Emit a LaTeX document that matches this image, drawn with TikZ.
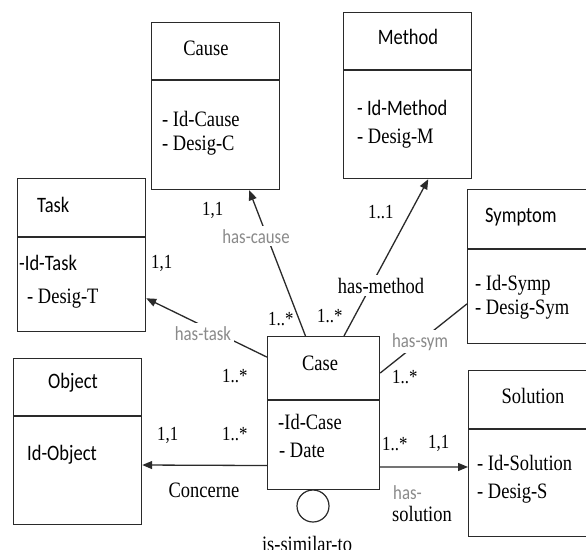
\documentclass[tikz,border=0pt]{standalone}
\usepackage{fontspec}
\setmainfont{Liberation Serif}[FakeStretch=0.84]
\newfontfamily\sansf{Carlito}[FakeStretch=0.84]
\usetikzlibrary{arrows.meta,calc}
\definecolor{lbl}{HTML}{8A8A8A}
\definecolor{ln}{HTML}{2A2A2A}
\tikzset{
  box/.style={draw=ln, line width=1.2pt, anchor=north west, inner sep=0pt, rectangle},
  divline/.style={draw=ln, line width=1.2pt},
  conn/.style={draw=ln, line width=1.3pt},
  arr/.style={conn, -{Triangle[length=10pt,width=8pt]}},
  sertxt/.style={font=\fontsize{22}{26}\selectfont, inner sep=0pt},
  sanstxt/.style={font=\sansf\fontsize{22}{26}\selectfont, inner sep=0pt},
  graylbl/.style={font=\sansf\fontsize{20}{24}\selectfont, text=lbl, fill=white, inner sep=3pt},
  mult/.style={font=\fontsize{20}{24}\selectfont, inner sep=0pt},
}
\begin{document}
\begin{tikzpicture}[x=1pt,y=-1pt]
\useasboundingbox (0,0) rectangle (586,549);
\clip (0,0) rectangle (586,549);
\fill[white] (0,0) rectangle (586,549);

% boxes
\node[box, minimum width=128pt, minimum height=167pt] (cause) at (151,22) {};
\node[box, minimum width=128pt, minimum height=166pt] (method) at (343,12) {};
\node[box, minimum width=128pt, minimum height=153pt] (task) at (17,178) {};
\node[box, minimum width=140pt, minimum height=154pt] (symptom) at (467,189) {};
\node[box, minimum width=128pt, minimum height=166pt] (object) at (13,358) {};
\node[box, minimum width=112pt, minimum height=153pt] (case) at (267,336) {};
\node[box, minimum width=130pt, minimum height=166pt] (solution) at (468,370) {};
\node[draw=ln, line width=1.2pt, circle, minimum size=32pt, inner sep=0pt] (self) at (313,506) {};

% dividers
\draw[divline] ($(cause.north west)+(0,58)$) -- ($(cause.north east)+(0,58)$);
\draw[divline] ($(method.north west)+(0,58)$) -- ($(method.north east)+(0,58)$);
\draw[divline] ($(task.north west)+(0,59)$) -- ($(task.north east)+(0,59)$);
\draw[divline] ($(symptom.north west)+(0,60)$) -- ($(symptom.north east)+(0,60)$);
\draw[divline] ($(object.north west)+(0,58)$) -- ($(object.north east)+(0,58)$);
\draw[divline] ($(case.north west)+(0,64)$) -- ($(case.north east)+(0,64)$);
\draw[divline] ($(solution.north west)+(0,59)$) -- ($(solution.north east)+(0,59)$);

% box texts
\node[sertxt, anchor=base] (tcause) at (206,55) {Cause};
\node[sertxt, anchor=base west] (a1) at (162,126) {- Id-Cause};
\node[sertxt, anchor=base west] (a2) at (162,150) {- Desig-C};

\node[sanstxt, anchor=base] (tmethod) at (408,44) {Method};
\node[sanstxt, anchor=base west] (b1) at (357,115) {- Id-Method};
\node[sertxt, anchor=base west] (b2) at (357,143) {- Desig-M};

\node[sanstxt, anchor=base west] (ttask) at (37,212) {Task};
\node[sanstxt, anchor=base west] (c1) at (19,270) {-Id-Task};
\node[sertxt, anchor=base west] (c2) at (27,303) {- Desig-T};

\node[sanstxt, anchor=base west] (tsym) at (485,222) {Symptom};
\node[sertxt, anchor=base west] (d1) at (475,290) {- Id-Symp};
\node[sertxt, anchor=base west] (d2) at (475,314) {- Desig-Sym};

\node[sanstxt, anchor=base west] (tobj) at (48,388) {Object};
\node[sanstxt, anchor=base west] (e1) at (27,460) {Id-Object};

\node[sertxt, anchor=base] (tcase) at (320,370) {Case};
\node[sertxt, anchor=base west] (f1) at (278,429) {-Id-Case};
\node[sertxt, anchor=base west] (f2) at (279,457) {- Date};

\node[sertxt, anchor=base] (tsol) at (533,403) {Solution};
\node[sertxt, anchor=base west] (g1) at (477,470) {- Id-Solution};
\node[sertxt, anchor=base west] (g2) at (477,498) {- Desig-S};

% connectors
\draw[arr] ($(case.north west)!0.34!(case.north east)$) -- ($(cause.south west)!0.76!(cause.south east)$);
\draw[arr] ($(case.north west)!0.68!(case.north east)$) -- ($(method.south west)!0.66!(method.south east)$);
\draw[arr] ($(case.north west)!0.137!(case.south west)$) -- ($(task.north east)!0.78!(task.south east)$);
\draw[conn] ($(case.north east)!0.24!(case.south east)$) -- ($(symptom.north west)!0.74!(symptom.south west)$);
\draw[arr] ($(case.north west)!0.84!(case.south west)$) -- ($(object.north east)!0.64!(object.south east)$);
\draw[arr] ($(case.north east)!0.85!(case.south east)$) -- ($(solution.north west)!0.58!(solution.south west)$);

% connector labels
\node[graylbl, anchor=base] (lcause) at (256,243) {has-cause};
\node[sertxt, fill=white, inner sep=3pt, anchor=base] (lmethod) at (381,293) {has-method};
\node[graylbl, anchor=base] (ltask) at (203,340) {has-task};
\node[graylbl, anchor=base] (lsym) at (420,347) {has-sym};
\node[sertxt, anchor=base] (lconc) at (204,497) {Concerne};
\node[graylbl, anchor=base west, fill=none, inner sep=0pt] (lsol1) at (393,499) {has-};
\node[sertxt, anchor=base west] (lsol2) at (392,521) {solution};
\node[sertxt, anchor=base] (lsim) at (307,551) {is-similar-to};

% multiplicities
\node[mult, anchor=base west] (m1) at (202,215) {1,1};
\node[mult, anchor=base west] (m2) at (151,268) {1,1};
\node[mult, anchor=base west] (m3) at (268,325) {1..*};
\node[mult, anchor=base west] (m4) at (317,322) {1..*};
\node[mult, anchor=base west] (m5) at (368,218) {1..1};
\node[mult, anchor=base west] (m6) at (222,382) {1..*};
\node[mult, anchor=base west] (m7) at (157,440) {1,1};
\node[mult, anchor=base west] (m8) at (222,440) {1..*};
\node[mult, anchor=base west] (m9) at (392,383) {1..*};
\node[mult, anchor=base west] (m10) at (382,450) {1..*};
\node[mult, anchor=base west] (m11) at (428,448) {1,1};
\end{tikzpicture}
\end{document}
